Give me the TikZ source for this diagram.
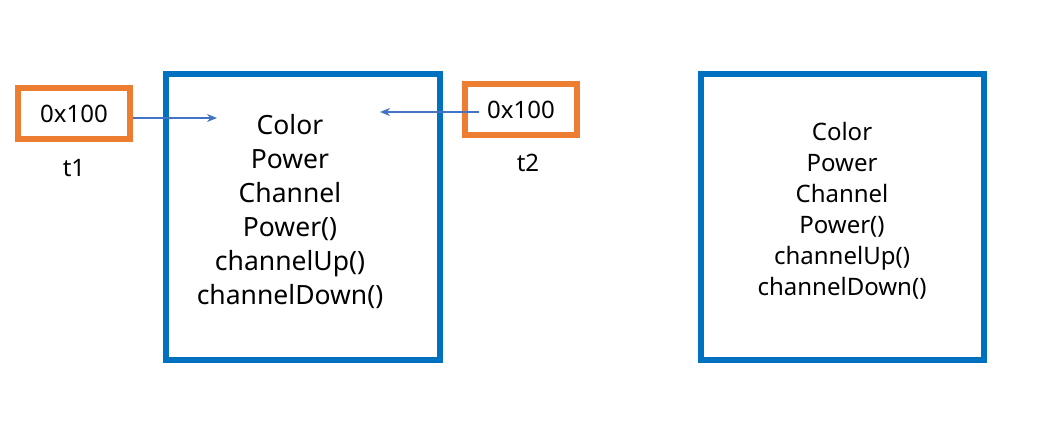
\documentclass[tikz,border=0pt]{standalone}
\usepackage{fontspec}
\setmainfont{Noto Sans}
\usetikzlibrary{arrows.meta}
\definecolor{objblue}{HTML}{0070C0}
\definecolor{refor}{HTML}{ED7D31}
\definecolor{arrblue}{HTML}{4472C4}
\begin{document}
\begin{tikzpicture}[x=1pt,y=-1pt,
  objbox/.style={draw=objblue,line width=6pt,rectangle,inner sep=0pt},
  refbox/.style={draw=refor,line width=5.5pt,rectangle,inner sep=0pt,font=\fontsize{24}{28}\selectfont},
  lbl/.style={font=\fontsize{24}{28}\selectfont,inner sep=0pt},
  members/.style={align=center,inner sep=0pt},
  ptr/.style={draw=arrblue,line width=2pt,-{Stealth[length=10pt,width=8pt]}}]
\useasboundingbox (0,0) rectangle (1056,421);
\node[objbox,minimum width=274pt,minimum height=286pt] (obj1) at (303,217) {};
\node[objbox,minimum width=283pt,minimum height=286pt] (obj2) at (842.5,217) {};
\node[members,font=\fontsize{26.5}{34}\selectfont] (m1) at (290,212) {Color\\Power\\Channel\\Power()\\channelUp()\\channelDown()};
\node[members,font=\fontsize{24}{31}\selectfont] (m2) at (842,211) {Color\\Power\\Channel\\Power()\\channelUp()\\channelDown()};
\node[refbox,minimum width=112pt,minimum height=51pt] (t1box) at (74,113.5) {0x100};
\node[refbox,minimum width=112pt,minimum height=51pt] (t2box) at (521,109.5) {0x100};
\node[lbl] (t1) at (74,168) {t1};
\node[lbl] (t2) at (528,163) {t2};
\coordinate (p1end) at (217,118);
\coordinate (p2end) at (380,112);
\draw[ptr] (t1box.east |- p1end) -- (p1end);
\draw[ptr] ([xshift=17pt,yshift=-2.5pt]t2box.west) -- (p2end);
\end{tikzpicture}
\end{document}
